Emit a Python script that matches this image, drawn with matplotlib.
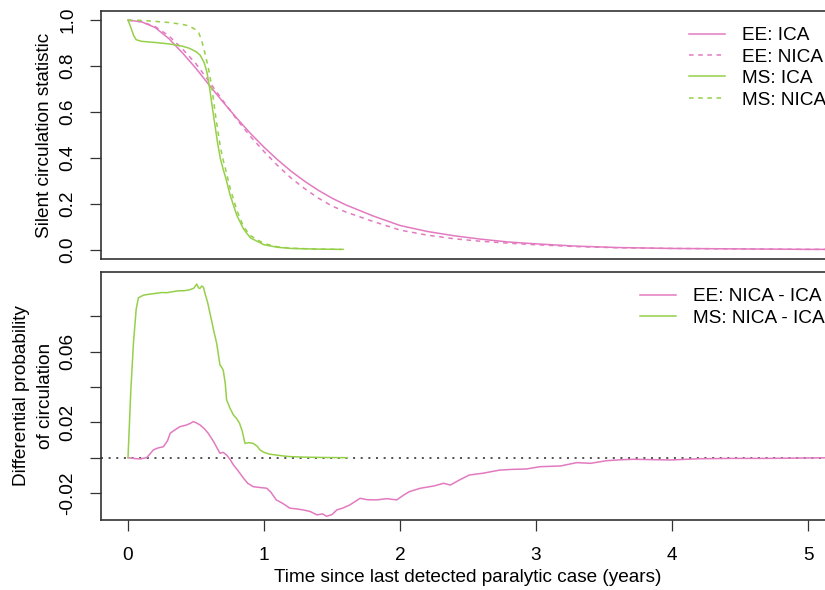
import numpy as np
import matplotlib
matplotlib.use("Agg")
import matplotlib.pyplot as plt

plt.rcParams['font.family'] = ['Liberation Sans', 'DejaVu Sans']

pink = '#E37AC0'
green = '#96D04A'

#--- top panel: silent circulation statistic
ee_t = [0, 0.1, 0.2, 0.3, 0.4, 0.5, 0.6, 0.7, 0.8, 0.9, 1.0, 1.1, 1.2, 1.3, 1.4,
        1.5, 1.6, 1.8, 2.0, 2.2, 2.4, 2.6, 2.8, 3.0, 3.3, 3.6, 4.0, 4.5, 5.0, 5.2]
ee_ica = [1.0, 0.993, 0.968, 0.92, 0.858, 0.79, 0.715, 0.643, 0.573, 0.507, 0.447,
          0.392, 0.342, 0.298, 0.259, 0.225, 0.196, 0.148, 0.106, 0.08, 0.061,
          0.046, 0.034, 0.026, 0.016, 0.010, 0.006, 0.004, 0.002, 0.002]
ee_nica = [1.0, 0.993, 0.972, 0.932, 0.875, 0.81, 0.73, 0.648, 0.568, 0.494,
           0.428, 0.367, 0.312, 0.266, 0.225, 0.191, 0.165, 0.124, 0.086, 0.064,
           0.048, 0.037, 0.029, 0.022, 0.014, 0.009, 0.006, 0.004, 0.002, 0.002]

ms_t = [0, 0.02, 0.04, 0.06, 0.1, 0.2, 0.3, 0.4, 0.45, 0.5, 0.53, 0.56, 0.58,
        0.6, 0.62, 0.64, 0.66, 0.68, 0.7, 0.72, 0.75, 0.8, 0.85, 0.9, 1.0, 1.1,
        1.2, 1.4, 1.56]
ms_ica = [1.0, 0.97, 0.935, 0.915, 0.908, 0.903, 0.897, 0.887, 0.878, 0.863,
          0.848, 0.815, 0.775, 0.705, 0.62, 0.54, 0.46, 0.395, 0.35, 0.31, 0.24,
          0.15, 0.09, 0.052, 0.022, 0.011, 0.006, 0.003, 0.002]
msn_t = [0, 0.05, 0.1, 0.2, 0.3, 0.4, 0.45, 0.5, 0.52, 0.54, 0.56, 0.58, 0.6,
         0.62, 0.64, 0.66, 0.68, 0.7, 0.72, 0.75, 0.8, 0.85, 0.9, 1.0, 1.1, 1.2,
         1.4, 1.6]
ms_nica = [1.0, 1.0, 0.999, 0.995, 0.99, 0.982, 0.975, 0.958, 0.945, 0.915,
           0.87, 0.82, 0.765, 0.69, 0.60, 0.52, 0.445, 0.39, 0.345, 0.27, 0.172,
           0.1, 0.062, 0.027, 0.013, 0.007, 0.003, 0.002]

#--- bottom panel: NICA - ICA
eed_t = [0, 0.05, 0.09, 0.137, 0.16, 0.186, 0.22, 0.26, 0.29, 0.31, 0.34, 0.38,
         0.43, 0.46, 0.48, 0.5, 0.53, 0.56, 0.59, 0.63, 0.676, 0.70, 0.725, 0.75,
         0.775, 0.81, 0.85, 0.88, 0.92, 0.96, 1.02, 1.05, 1.09, 1.14, 1.19, 1.24,
         1.29, 1.34, 1.39, 1.43, 1.46, 1.5, 1.535, 1.58, 1.63, 1.706, 1.76, 1.83,
         1.9, 1.976, 2.03, 2.07, 2.15, 2.25, 2.32, 2.37, 2.44, 2.51, 2.61, 2.735,
         2.83, 2.93, 3.03, 3.18, 3.30, 3.40, 3.52, 3.62, 3.72, 3.85, 3.99, 4.2,
         4.45, 4.7, 4.95, 5.2]
ee_diff = [0, -0.0005, -0.0007, 0, 0.002, 0.0044, 0.0055, 0.0062, 0.0095, 0.0138,
           0.0155, 0.0175, 0.0185, 0.0195, 0.0204, 0.0198, 0.0185, 0.0165, 0.0138,
           0.009, 0.0025, 0.003, 0.0015, -0.001, -0.0041, -0.0075, -0.0117,
           -0.0145, -0.0164, -0.0168, -0.0173, -0.0195, -0.0239, -0.026, -0.0286,
           -0.029, -0.0296, -0.0305, -0.0324, -0.0318, -0.0332, -0.0322, -0.0296,
           -0.0285, -0.0268, -0.023, -0.0238, -0.0239, -0.0232, -0.0239, -0.021,
           -0.0192, -0.0173, -0.016, -0.0145, -0.0155, -0.0125, -0.0098, -0.0088,
           -0.007, -0.0066, -0.0064, -0.0051, -0.0047, -0.0028, -0.0032, -0.0017,
           -0.0012, -0.0009, -0.0011, -0.0013, -0.0006, -0.0004, -0.0004, -0.0002,
           0.0]
msd_t = [0, 0.02, 0.04, 0.06, 0.076, 0.113, 0.15, 0.2, 0.25, 0.285, 0.33, 0.37,
         0.41, 0.45, 0.483, 0.505, 0.52, 0.53, 0.542, 0.555, 0.566, 0.585, 0.603,
         0.63, 0.652, 0.676, 0.69, 0.70, 0.715, 0.725, 0.75, 0.775, 0.80, 0.82,
         0.84, 0.86, 0.89, 0.92, 0.95, 0.97, 1.0, 1.04, 1.09, 1.14, 1.19, 1.3,
         1.45, 1.61]
ms_diff = [0, 0.037, 0.065, 0.084, 0.0905, 0.092, 0.0925, 0.093, 0.0935, 0.0934,
           0.094, 0.0945, 0.0945, 0.095, 0.0959, 0.0983, 0.096, 0.0959, 0.0972,
           0.0965, 0.093, 0.088, 0.0817, 0.072, 0.0647, 0.0525, 0.051, 0.0496,
           0.042, 0.0327, 0.028, 0.0242, 0.022, 0.0195, 0.015, 0.0081, 0.0085,
           0.0081, 0.0065, 0.0044, 0.003, 0.002, 0.0015, 0.001, 0.0006, 0.0003,
           0.0001, 0.0]

fs = 13.7
dash = (0, (3, 3))

fig = plt.figure(figsize=(8.25, 5.9), dpi=100)
ax1 = fig.add_axes([0.1222, 0.5610, 0.8902, 0.4203])
ax2 = fig.add_axes([0.1222, 0.1186, 0.8902, 0.4209])

ax1.plot(ee_t, ee_ica, color=pink, lw=1.1, label='EE: ICA')
ax1.plot(ee_t, ee_nica, color=pink, lw=1.1, ls=dash, label='EE: NICA')
ax1.plot(ms_t, ms_ica, color=green, lw=1.1, label='MS: ICA')
ax1.plot(msn_t, ms_nica, color=green, lw=1.1, ls=dash, label='MS: NICA')

ax2.axhline(0, color='#222222', lw=1.1, ls=(0, (1.3, 3.7)))
ax2.plot(eed_t, ee_diff, color=pink, lw=1.1, label='EE: NICA - ICA')
ax2.plot(msd_t, ms_diff, color=green, lw=1.1, label='MS: NICA - ICA')

for ax in (ax1, ax2):
    ax.set_xlim(-0.2, 5.2)
    for s in ax.spines.values():
        s.set_color('#333333')
        s.set_linewidth(1.2)
    ax.tick_params(direction='out', length=7.7, width=0.9, color='#333333',
                   labelsize=fs, pad=10)

ax1.set_ylim(-0.04, 1.04)
ax1.set_yticks([0, 0.2, 0.4, 0.6, 0.8, 1.0])
ax1.set_yticklabels(['0.0', '0.2', '0.4', '0.6', '0.8', '1.0'], rotation=90, va='center')
ax1.set_xticks([])

ax2.set_ylim(-0.0353, 0.1053)
ax2.set_yticks([-0.02, 0, 0.02, 0.04, 0.06, 0.08])
ax2.set_yticklabels(['-0.02', '', '0.02', '', '0.06', ''], rotation=90, va='center')
ax2.set_xticks([0, 1, 2, 3, 4, 5])
ax2.tick_params(axis='x', pad=12)

leg_kw = dict(frameon=False, fontsize=fs, handlelength=1.9, handletextpad=0.88,
              labelspacing=0.215, borderpad=0, borderaxespad=0, loc='upper left')
ax1.legend(bbox_to_anchor=(689 / 825, 1 - 27 / 590), bbox_transform=fig.transFigure, **leg_kw)
ax2.legend(bbox_to_anchor=(640 / 825, 1 - 288 / 590), bbox_transform=fig.transFigure, **leg_kw)

fig.text(45 / 825, 1 - 135 / 590, 'Silent circulation statistic', rotation=90,
         ha='center', va='center', fontsize=fs)
fig.text(22 / 825, 1 - 396 / 590, 'Differential probability', rotation=90,
         ha='center', va='center', fontsize=fs)
fig.text(45 / 825, 1 - 396 / 590, 'of circulation', rotation=90,
         ha='center', va='center', fontsize=fs)
fig.text(468 / 825, 1 - 578 / 590, 'Time since last detected paralytic case (years)',
         ha='center', va='center', fontsize=fs)

fig.savefig('out.png', dpi=100)
